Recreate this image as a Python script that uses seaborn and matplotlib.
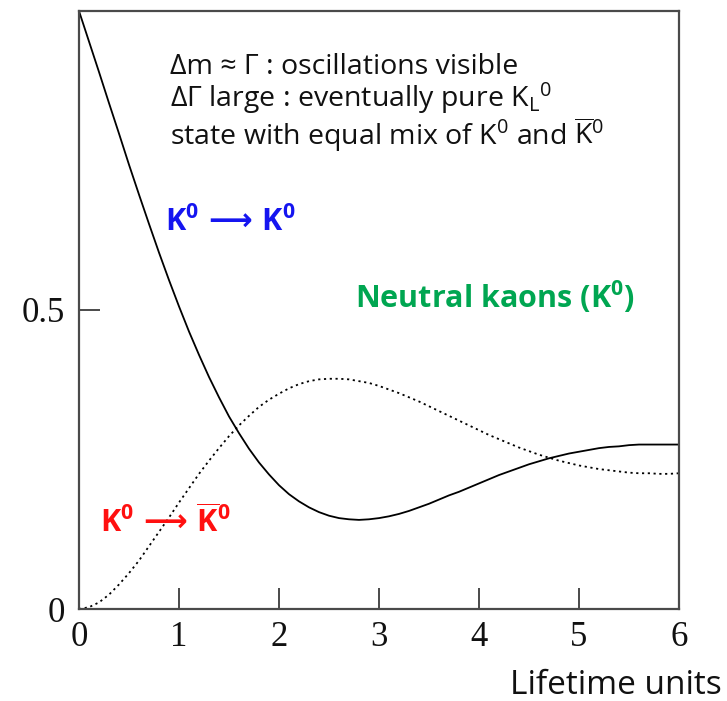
import matplotlib
matplotlib.use("Agg")
import matplotlib.pyplot as plt
import pandas as pd
import seaborn as sns

# Time in lifetime units and the two transition probabilities
time = [0.0, 0.1, 0.2, 0.3, 0.4, 0.5, 0.6, 0.7, 0.8, 0.9,
        1.0, 1.1, 1.2, 1.3, 1.4, 1.5, 1.6, 1.7, 1.8, 1.9,
        2.0, 2.1, 2.2, 2.3, 2.4, 2.5, 2.6, 2.7, 2.8, 2.9,
        3.0, 3.1, 3.2, 3.3, 3.4, 3.5, 3.6, 3.7, 3.8, 3.9,
        4.0, 4.1, 4.2, 4.3, 4.4, 4.5, 4.6, 4.7, 4.8, 4.9,
        5.0, 5.1, 5.2, 5.3, 5.4, 5.5, 5.6, 5.7, 5.8, 5.9, 6.0]
# K0 -> K0
p_same = [1.000, 0.949, 0.898, 0.846, 0.795, 0.743, 0.693, 0.644, 0.596, 0.550,
          0.506, 0.464, 0.425, 0.388, 0.354, 0.322, 0.294, 0.268, 0.245, 0.225,
          0.207, 0.192, 0.180, 0.170, 0.162, 0.156, 0.152, 0.150, 0.149, 0.150,
          0.152, 0.155, 0.159, 0.164, 0.170, 0.176, 0.183, 0.190, 0.196, 0.203,
          0.210, 0.217, 0.224, 0.230, 0.236, 0.242, 0.247, 0.252, 0.256, 0.260,
          0.263, 0.266, 0.269, 0.271, 0.272, 0.274, 0.275, 0.275, 0.275, 0.275, 0.275]
# K0 -> K0bar
p_flip = [0.000, 0.003, 0.011, 0.024, 0.041, 0.060, 0.081, 0.105, 0.129, 0.153,
          0.178, 0.202, 0.226, 0.248, 0.269, 0.289, 0.307, 0.323, 0.338, 0.350,
          0.360, 0.369, 0.376, 0.381, 0.384, 0.385, 0.385, 0.384, 0.381, 0.378,
          0.373, 0.367, 0.361, 0.354, 0.347, 0.339, 0.331, 0.323, 0.315, 0.307,
          0.299, 0.291, 0.284, 0.277, 0.270, 0.264, 0.258, 0.253, 0.248, 0.244,
          0.240, 0.237, 0.234, 0.232, 0.230, 0.228, 0.227, 0.227, 0.226, 0.226, 0.227]

x_ticks = [0, 1, 2, 3, 4, 5, 6]
y_ticks = [0, 0.5]
y_tick_labels = ["0", "0.5"]

sns.set_style("ticks")
plt.rcParams["font.family"] = ["Open Sans", "DejaVu Sans"]
plt.rcParams["mathtext.fontset"] = "custom"
plt.rcParams["mathtext.rm"] = "Open Sans"
plt.rcParams["mathtext.it"] = "Open Sans:italic"
plt.rcParams["mathtext.bf"] = "Open Sans:bold"
plt.rcParams["mathtext.sf"] = "DejaVu Sans:bold"

df = pd.DataFrame({"t": time, "same": p_same, "flip": p_flip})

fig = plt.figure(figsize=(7.27, 7.01), dpi=100)
ax = fig.add_axes([79 / 727, 1 - 609 / 701, 600 / 727, 598 / 701])

sns.lineplot(data=df, x="t", y="same", ax=ax, color="black", linewidth=1.3)
sns.lineplot(data=df, x="t", y="flip", ax=ax, color="black", linewidth=1.3,
             linestyle=(0, (1.2, 2.0)))

ax.set_xlim(0, 6)
ax.set_ylim(0, 1.0)
ax.set_xlabel("")
ax.set_ylabel("")
ax.set_xticks(x_ticks)
ax.set_xticklabels([str(v) for v in x_ticks])
ax.set_yticks(y_ticks)
ax.set_yticklabels(y_tick_labels)

for s in ax.spines.values():
    s.set_visible(True)
    s.set_color("#4a4a4a")
    s.set_linewidth(1.6)
ax.tick_params(axis="both", direction="in", length=15, width=1.4, color="#4a4a4a",
               labelsize=25)
ax.tick_params(axis="x", pad=9)
ax.tick_params(axis="y", pad=10)
for lab in ax.get_xticklabels() + ax.get_yticklabels():
    lab.set_family("Liberation Serif")
    lab.set_color("#111111")

# Explanatory note
note = ("\u0394m \u2248 \u0393 : oscillations visible\n"
        "\u0394\u0393 large : eventually pure K$_{\\mathrm{L}}$$^{0}$\n"
        "state with equal mix of K$^{0}$ and $\\overline{\\mathrm{K}}^{0}$")
ax.text(0.91, 0.930, note, fontsize=20.5, color="#111111", ha="left", va="top",
        linespacing=1.0)

# Curve labels
label_kw = dict(fontsize=22, fontweight="bold", ha="left", va="center")
arrow = "$\\,\\mathsf{\\longrightarrow}\\,$"
ax.text(0.86, 0.647, "K$^{\\mathbf{0}}$" + arrow + "K$^{\\mathbf{0}}$",
        color="#1515f0", **label_kw)
ax.text(2.76, 0.522, "Neutral kaons (K$^{\\mathbf{0}}$)", color="#00a651", **label_kw)
ax.text(0.21, 0.145, "K$^{\\mathbf{0}}$" + arrow + "$\\overline{\\mathbf{K}}^{\\mathbf{0}}$",
        color="#ff1010", **label_kw)

fig.text(0.993, 1 - 685 / 701, "Lifetime units", fontsize=24, color="#111111",
         ha="right", va="center")

fig.savefig("out.png", dpi=100)
